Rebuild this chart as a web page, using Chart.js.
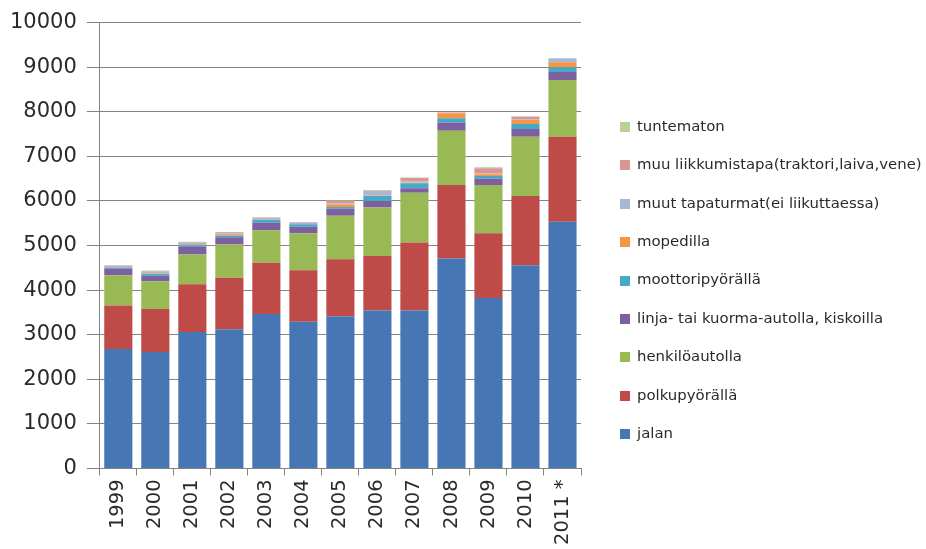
<!DOCTYPE html>
<html>
<head>
<meta charset="utf-8">
<script src="https://cdn.jsdelivr.net/npm/chart.js@4/dist/chart.umd.min.js"></script>
<style>
  body { margin: 0; background: #fff; }
  #wrap { width: 926px; height: 549px; }
</style>
</head>
<body>
<div id="wrap"><canvas id="tapaturmat" width="926" height="549"></canvas></div>
<script>
// vuodet
var years = ['1999', '2000', '2001', '2002', '2003', '2004', '2005', '2006', '2007', '2008', '2009', '2010', '2011 *'];

// arvot luettu kuvasta
var jalan        = [2680, 2610, 3060, 3120, 3465, 3290, 3415, 3545, 3545, 4710, 3825, 4560, 5535];
var polkupyora   = [ 975,  965, 1070, 1155, 1150, 1155, 1275, 1220, 1520, 1645, 1450, 1550, 1905];
var henkiloauto  = [ 680,  625,  670,  750,  725,  830,  975, 1085, 1120, 1220, 1080, 1330, 1270];
var linjaKuorma  = [ 150,  120,  165,  160,  170,  145,  160,  150,  100,  185,  150,  175,  180];
var moottoripyora= [  20,   40,   30,   40,   60,   55,   40,  110,  110,   95,   55,  110,  110];
var mopedilla    = [  10,   10,   10,   30,   10,   10,   60,   10,   20,  110,   40,   90,  110];
var muutTapat    = [  25,   40,   50,   15,   35,   30,   20,  100,   20,   10,   15,   10,   90];
var muuLiikkuminen = [10,   15,   15,   25,   10,   10,   60,   10,   80,   10,  120,   70,    0];
var tuntematon   = [   5,   15,   15,   10,   10,    5,   10,   15,   10,    5,   20,    0,    0];

var yTicks = [0, 1000, 2000, 3000, 4000, 5000, 6000, 7000, 8000, 9000, 10000];

var sarjat = [
    { label: 'jalan', data: jalan, backgroundColor: '#4776B4' },
    { label: 'polkupyörällä', data: polkupyora, backgroundColor: '#BE4B48' },
    { label: 'henkilöautolla', data: henkiloauto, backgroundColor: '#98B954' },
    { label: 'linja- tai kuorma-autolla, kiskoilla', data: linjaKuorma, backgroundColor: '#7D60A0' },
    { label: 'moottoripyörällä', data: moottoripyora, backgroundColor: '#46AAC5' },
    { label: 'mopedilla', data: mopedilla, backgroundColor: '#F69544' },
    { label: 'muut tapaturmat(ei liikuttaessa)', data: muutTapat, backgroundColor: '#A5B8D5' },
    { label: 'muu liikkumistapa(traktori,laiva,vene)', data: muuLiikkuminen, backgroundColor: '#DA9694' },
    { label: 'tuntematon', data: tuntematon, backgroundColor: '#B9D097' }
];

var textColor = '#2a2a2a';
var gridColor = '#848484';

// selite oikealla, ylimpänä viimeinen sarja (kuten Excelissä)
var sivuSelite = {
    id: 'sivuSelite',
    afterDraw: function (chart) {
        var c = chart.ctx;
        var sets = chart.data.datasets.slice().reverse();
        var x = 620, y0 = 127, step = 38.4, box = 10;
        c.save();
        c.font = '14.9px "DejaVu Sans"';
        c.textBaseline = 'middle';
        c.textAlign = 'left';
        sets.forEach(function (ds, i) {
            var y = y0 + i * step;
            c.fillStyle = ds.backgroundColor;
            c.fillRect(x, Math.round(y - box / 2), box, box);
            c.fillStyle = textColor;
            c.fillText(ds.label, x + 17, y);
        });
        c.restore();
    }
};

var ctx = document.getElementById('tapaturmat').getContext('2d');

var chart = new Chart(ctx, {
    type: 'bar',
    data: {
        labels: years,
        datasets: sarjat.map(function (s) {
            return {
                label: s.label,
                data: s.data,
                backgroundColor: s.backgroundColor,
                borderWidth: 0,
                categoryPercentage: 1,
                barPercentage: 0.76
            };
        })
    },
    options: {
        responsive: false,
        animation: false,
        devicePixelRatio: 1,
        layout: { padding: { top: 9, left: 0, right: 345, bottom: 0 } },
        scales: {
            x: {
                stacked: true,
                grid: {
                    display: true,
                    drawOnChartArea: false,
                    drawTicks: true,
                    tickLength: 7,
                    color: gridColor
                },
                border: { display: true, color: gridColor, width: 1 },
                ticks: {
                    color: textColor,
                    font: { family: 'DejaVu Sans', size: 19.5 },
                    minRotation: 90,
                    maxRotation: 90,
                    padding: 4,
                    autoSkip: false
                }
            },
            y: {
                stacked: true,
                min: 0,
                max: 10000,
                afterBuildTicks: function (scale) {
                    scale.ticks = yTicks.map(function (v) { return { value: v }; });
                },
                grid: {
                    color: gridColor,
                    lineWidth: 1,
                    tickLength: 13
                },
                border: { display: true, color: gridColor, width: 1 },
                ticks: {
                    color: textColor,
                    font: { family: 'DejaVu Sans', size: 21 },
                    padding: 10,
                    callback: function (v) { return String(v); }
                }
            }
        },
        plugins: {
            legend: { display: false },
            tooltip: { enabled: false }
        }
    },
    plugins: [sivuSelite]
});
</script>
</body>
</html>
